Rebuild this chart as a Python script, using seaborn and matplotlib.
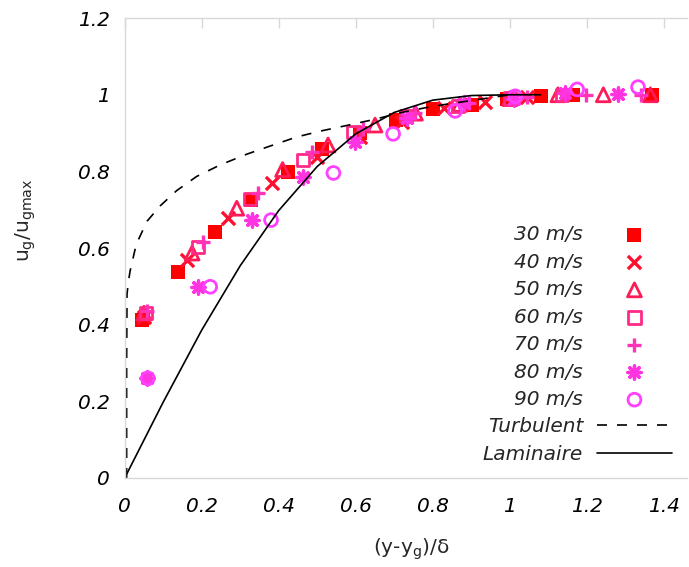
import matplotlib
matplotlib.use("Agg")
import matplotlib.pyplot as plt
import seaborn as sns
import pandas as pd

# ------------------------------
# Data
# ------------------------------
speeds = ['30 m/s', '40 m/s', '50 m/s', '60 m/s', '70 m/s', '80 m/s', '90 m/s']

x30 = [0.045, 0.139, 0.234, 0.329, 0.425, 0.512, 0.611, 0.705, 0.80, 0.902, 0.993, 1.08, 1.165, 1.37]
y30 = [0.412, 0.537, 0.642, 0.725, 0.798, 0.858, 0.90, 0.934, 0.962, 0.973, 0.988, 0.997, 1.0, 1.0]

x40 = [0.05, 0.161, 0.269, 0.382, 0.499, 0.61, 0.72, 0.828, 0.936, 1.045]
y40 = [0.42, 0.569, 0.678, 0.77, 0.838, 0.89, 0.93, 0.965, 0.98, 0.995]

x50 = [0.05, 0.175, 0.291, 0.41, 0.528, 0.65, 0.755, 0.87, 1.0, 1.125, 1.243, 1.365]
y50 = [0.43, 0.587, 0.704, 0.805, 0.869, 0.921, 0.952, 0.975, 0.99, 1.0, 1.0, 1.0]

x60 = [0.055, 0.19, 0.326, 0.463, 0.594, 0.73, 0.865, 1.0, 1.135]
y60 = [0.43, 0.603, 0.728, 0.83, 0.903, 0.945, 0.97, 0.99, 1.0]

x70 = [0.057, 0.204, 0.347, 0.487, 0.62, 0.755, 0.895, 1.045, 1.198, 1.34]
y70 = [0.435, 0.616, 0.744, 0.851, 0.91, 0.952, 0.978, 0.994, 1.0, 1.0]

x80 = [0.057, 0.19, 0.33, 0.463, 0.598, 0.733, 0.88, 1.01, 1.143, 1.28]
y80 = [0.26, 0.499, 0.673, 0.786, 0.877, 0.94, 0.978, 0.988, 1.004, 1.003]

x90 = [0.06, 0.222, 0.38, 0.542, 0.697, 0.858, 1.014, 1.175, 1.333]
y90 = [0.26, 0.499, 0.673, 0.796, 0.898, 0.958, 0.996, 1.014, 1.02]

# reference profiles
turb_x = [0.005, 0.005, 0.006, 0.01, 0.014, 0.03, 0.058, 0.092, 0.135, 0.187, 0.248, 0.317,
          0.377, 0.447, 0.507, 0.577, 0.645, 0.72, 0.8, 0.9, 1.0]
turb_y = [0, 0.3, 0.48, 0.515, 0.54, 0.61, 0.67, 0.71, 0.75, 0.787, 0.817, 0.845,
          0.866, 0.89, 0.905, 0.92, 0.935, 0.954, 0.97, 0.985, 1.0]

lam_x = [0, 0.1, 0.2, 0.3, 0.4, 0.5, 0.6, 0.7, 0.8, 0.9, 1.0, 1.08]
lam_y = [0, 0.198, 0.386, 0.554, 0.698, 0.813, 0.898, 0.954, 0.986, 0.998, 1.0, 1.0]

series_x = [x30, x40, x50, x60, x70, x80, x90]
series_y = [y30, y40, y50, y60, y70, y80, y90]
colors = ['#ff0000', '#ff1030', '#ff1a58', '#ff2a88', '#ff33b8', '#ff33e0', '#ff40ff']
markers = ['s', 'x', '^', 's', '+', (8, 2, 0), 'o']
filled = [True, False, False, False, False, False, False]
sizes = [100, 90, 100, 80, 100, 90, 85]

# ------------------------------
# Style
# ------------------------------
sns.set_style('white')
plt.rcParams['font.family'] = ['DejaVu Sans']

fig = plt.figure(figsize=(6.89, 5.67), dpi=100)
ax = fig.add_axes([0.181, 0.157, 0.816, 0.811])

# ------------------------------
# Scatter series
# ------------------------------
for lab, xs, ys, c, m, f, s in zip(speeds, series_x, series_y, colors, markers, filled, sizes):
    df = pd.DataFrame({'x': xs, 'y': ys})
    if f:
        sns.scatterplot(data=df, x='x', y='y', marker=m, s=s, color=c,
                        linewidth=0, label=lab, ax=ax)
    elif m in ('x', '+') or isinstance(m, tuple):
        sns.scatterplot(data=df, x='x', y='y', marker=m, s=s, color=c,
                        linewidth=2.4, label=lab, ax=ax)
    else:
        sns.scatterplot(data=df, x='x', y='y', marker=m, s=s, facecolor='none',
                        edgecolor=c, linewidth=2.0, label=lab, ax=ax)

# ------------------------------
# Reference profiles
# ------------------------------
sns.lineplot(x=turb_x, y=turb_y, color='black', linestyle=(0, (6, 6)), linewidth=1.2,
             sort=False, estimator=None, label='Turbulent', ax=ax)
sns.lineplot(x=lam_x, y=lam_y, color='black', linewidth=1.2,
             sort=False, estimator=None, label='Laminaire', ax=ax)

# ------------------------------
# Axes
# ------------------------------
ax.set_xlim(0, 1.46)
ax.set_ylim(0, 1.2)
ax.set_xticks([0, 0.2, 0.4, 0.6, 0.8, 1.0, 1.2, 1.4])
ax.set_xticklabels(['0', '0.2', '0.4', '0.6', '0.8', '1', '1.2', '1.4'])
ax.set_yticks([0, 0.2, 0.4, 0.6, 0.8, 1.0, 1.2])
ax.set_yticklabels(['0', '0.2', '0.4', '0.6', '0.8', '1', '1.2'])
for t in ax.get_xticklabels() + ax.get_yticklabels():
    t.set_fontstyle('italic')
    t.set_fontsize(14.5)

ax.tick_params(axis='both', direction='in', length=7, width=1, color='#d8d8d8',
               labelcolor='black', top=True, right=False, pad=11)
ax.tick_params(axis='x', pad=14)
for side in ['left', 'bottom', 'top']:
    ax.spines[side].set_color('#d8d8d8')
    ax.spines[side].set_linewidth(1)
ax.spines['right'].set_visible(False)

ax.set_xlabel(r'(y-y$_\mathregular{g}$)/δ', fontsize=14.5)
ax.set_ylabel(r'u$_\mathregular{g}$/u$_\mathregular{gmax}$', fontsize=14.5)
ax.xaxis.set_label_coords(0.51, -0.128)
ax.yaxis.set_label_coords(-0.155, 0.56)

leg = ax.legend(loc='lower right', markerfirst=False, frameon=False, fontsize=14.5,
                handlelength=3.7, handletextpad=0.7, labelspacing=0.42,
                borderaxespad=0.3, scatterpoints=1, bbox_to_anchor=(0.998, 0.0))
for t in leg.get_texts():
    t.set_fontstyle('italic')

plt.savefig('out.png', dpi=100)
